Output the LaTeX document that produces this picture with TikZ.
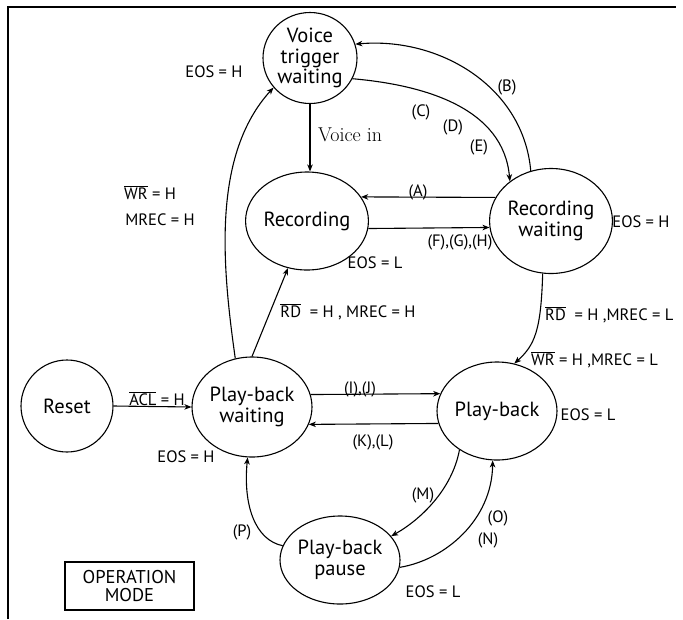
\documentclass[tikz,border=0pt]{standalone}
\usepackage{fontspec}
\setsansfont{PT Sans}
\usetikzlibrary{arrows.meta,shapes.geometric}
\newcommand{\ovl}[1]{$\overline{\mbox{#1}}$}
\tikzset{
  state/.style={draw, ellipse, inner sep=0pt, align=center, line width=1.1pt,
    font=\sffamily\fontsize{20.5}{20.5}\selectfont},
  lbl/.style={font=\sffamily\fontsize{16.5}{17}\selectfont, inner sep=0pt},
  conn/.style={line width=1.1pt, -{Stealth[length=7pt,width=5.5pt,inset=2pt]}},
}
\begin{document}
\begin{tikzpicture}[x=1pt,y=1pt]
\useasboundingbox (0,0) rectangle (683,-619);
% frame
\draw[line width=1.2pt] (8,-619) -- (8,-7) -- (676,-7);

% states
\node[state, minimum width=94pt, minimum height=91pt] (vt) at (310,-58) {Voice\\trigger\\waiting};
\node[state, minimum width=97pt, minimum height=98pt] (rec) at (307,-221) {Recording};
\node[state, minimum width=105pt, minimum height=105pt] (rw) at (551,-221) {Recording\\waiting};
\node[state, minimum width=92pt, minimum height=92pt] (reset) at (67,-406) {Reset};
\node[state, minimum width=100pt, minimum height=100pt] (pbw) at (252,-407) {Play-back\\waiting};
\node[state, minimum width=103pt, minimum height=98pt] (pb) at (497,-411) {Play-back};
\node[state, minimum width=106pt, minimum height=88pt] (pause) at (340,-560) {Play-back\\pause};

% connectors
\draw[conn] (vt.south) -- (vt.south |- rec.north);
\draw[conn] (vt.-26) to[out=-5,in=95] (rw.136);
\draw[conn] (rw.112) to[out=95,in=5] (vt.17);
\draw[conn] (rw.157.6) -- (rec.24);
\draw[conn] (rec.-7) -- (rw.186.6);
\draw[conn] (pbw.109) .. controls (222,-265) and (212,-155) .. (vt.219);
\draw[conn] (pbw.90) -- (rec.-112);
\draw[conn] (reset.east) -- (pbw.west);
\draw[conn] (pbw.12.7) -- (pb.163);
\draw[conn] (pb.192.5) -- (pbw.-17.5);
\draw[conn] (rw.261) .. controls (541,-330) and (535,-345) .. (pb.70);
\draw[conn] (pb.226) .. controls (452,-490) and (420,-520) .. (pause.25);
\draw[conn] (pause.-7) .. controls (445,-560) and (492,-520) .. (pb.-95);
\draw[conn] (pause.166) .. controls (255,-540) and (243,-505) .. (pbw.-95);

% labels
\node[font=\fontsize{20}{20}\selectfont, inner sep=0pt] (lvoice) at (350,-135) {Voice in};
\node[lbl] (lc) at (421,-112) {(C)};
\node[lbl] (ld) at (453,-127) {(D)};
\node[lbl] (le) at (479,-147) {(E)};
\node[lbl] (lb) at (507,-87) {(B)};
\node[lbl] (la) at (418,-192) {(A)};
\node[lbl] (lfgh) at (460,-242) {(F),(G),(H)};
\node[lbl] (leosrw) at (641,-222) {EOS = H};
\node[lbl] (leosrec) at (375,-263) {EOS = L};
\node[lbl] (lrdh) at (348,-312) {\ovl{RD}\ \ = H ,\ MREC = H};
\node[lbl] (leosvt) at (214,-72) {EOS = H};
\node[lbl] (lwrh) at (150,-193) {\ovl{WR} = H};
\node[lbl] (lmrech) at (160,-220) {MREC = H};
\node[lbl] (lacl) at (157,-399) {\ovl{ACL} = H};
\node[lbl] (lij) at (360,-389) {(I),(J)};
\node[lbl] (lkl) at (373,-442) {(K),(L)};
\node[lbl] (leospb) at (588,-415) {EOS = L};
\node[lbl] (leospbw) at (186,-457) {EOS = H};
\node[lbl, anchor=west] (lrdl) at (545,-315) {\ovl{RD}\ \ = H ,MREC = L};
\node[lbl, anchor=west] (lwrl) at (531,-360) {\ovl{WR} = H ,MREC = L};
\node[lbl] (lm) at (423,-495) {(M)};
\node[lbl] (lo) at (498,-518) {(O)};
\node[lbl] (ln) at (488,-540) {(N)};
\node[lbl] (lp) at (242,-532) {(P)};
\node[lbl] (leospause) at (433,-592) {EOS = L};

% operation mode box
\node[draw, line width=1.1pt, minimum width=129pt, minimum height=48pt, inner sep=0pt,
  align=center, font=\sffamily\fontsize{18.5}{18.5}\selectfont] (opmode) at (129.5,-586) {OPERATION\\MODE};
\end{tikzpicture}
\end{document}
